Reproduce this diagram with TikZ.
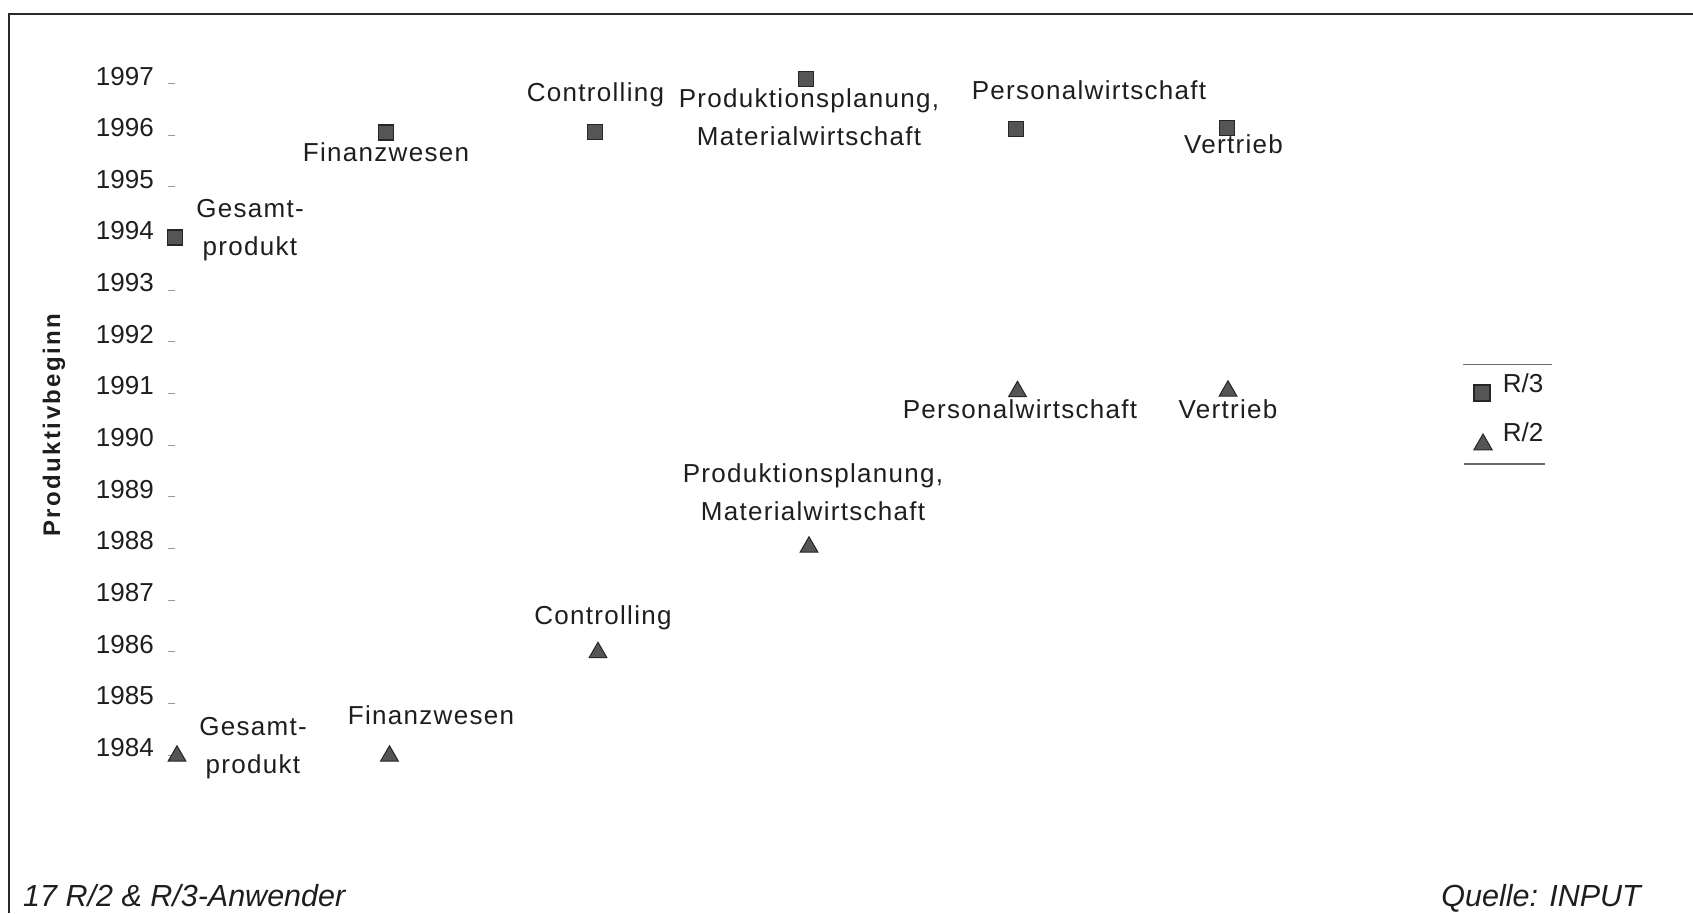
\documentclass[tikz,border=0pt]{standalone}
\usepackage{fontspec}
\setmainfont{Liberation Sans}
\newfontfamily\lblfont{Liberation Sans}[LetterSpace=5]
\newfontfamily\ttlfont{Liberation Sans}[LetterSpace=10]
\usetikzlibrary{shapes.geometric}
\definecolor{txt}{HTML}{1E1E1E}
\definecolor{mkfill}{HTML}{555555}
\definecolor{mkdraw}{HTML}{262626}
\definecolor{tickc}{HTML}{9A9A9A}
\definecolor{framec}{HTML}{2A2A2A}
\definecolor{legc}{HTML}{6A6A6A}
\begin{document}
\begin{tikzpicture}[x=1pt,y=-1pt,
  lbl/.style={font=\lblfont\fontsize{26}{38}\selectfont, text=txt, inner sep=0, anchor=base, align=center},
  yr/.style={font=\fontsize{26}{30}\selectfont, text=txt, inner sep=0, anchor=base east},
  sq/.style={rectangle, minimum size=15pt, inner sep=0, fill=mkfill, draw=mkdraw, line width=1.2pt},
  tri/.style={regular polygon, regular polygon sides=3, minimum size=20.5pt, inner sep=0, fill=mkfill, draw=mkdraw, line width=1pt},
  tk/.style={draw=tickc, line width=1pt},
  legline/.style={draw=legc, line width=1.5pt},
  foot/.style={font=\itshape\fontsize{30.5}{34}\selectfont, text=txt, inner sep=0}
]
\useasboundingbox (0,0) rectangle (1693,913);
\fill[white] (0,0) rectangle (1693,913);
% frame (top and left)
\draw[framec, line width=2pt] (9,913) -- (9,13.5) -- (1693,13.5);

% y axis labels and ticks
\foreach \yy [count=\i from 0] in {1997,1996,...,1984}{
  \node[yr] (y\yy) at (154, 85+\i*51.66) {\yy};
  \draw[tk] (168, 83.6+\i*51.66) -- (175, 83.6+\i*51.66);
}
\node[rotate=90, font=\ttlfont\bfseries\fontsize{24}{28}\selectfont, text=txt, inner sep=0] (title) at (54,425) {Produktivbeginn};

% R/3 markers (squares)
\node[sq] (s1) at (175,237.5) {};
\node[sq] (s2) at (385.6,132.5) {};
\node[sq] (s3) at (595,132) {};
\node[sq] (s4) at (806,78.7) {};
\node[sq] (s5) at (1015.6,129) {};
\node[sq] (s6) at (1226.6,128) {};

% R/2 markers (triangles)
\node[tri] (t1) at (177,756) {};
\node[tri] (t2) at (389.5,756) {};
\node[tri] (t3) at (598,652.5) {};
\node[tri] (t4) at (809,547) {};
\node[tri] (t5) at (1017.5,391.5) {};
\node[tri] (t6) at (1228,391) {};

% R/3 labels (base = baseline of last line)
\node[lbl] (ls1) at (250,255) {Gesamt-\\produkt};
\node[lbl] (ls2) at (386,161) {Finanzwesen};
\node[lbl] (ls3) at (595.5,101) {Controlling};
\node[lbl] (ls4) at (809,145) {Produktionsplanung,\\Materialwirtschaft};
\node[lbl] (ls5) at (1089,99) {Personalwirtschaft};
\node[lbl] (ls6) at (1233.5,153) {Vertrieb};

% R/2 labels
\node[lbl] (lt1) at (253,773) {Gesamt-\\produkt};
\node[lbl] (lt2) at (431,724) {Finanzwesen};
\node[lbl] (lt3) at (603,624) {Controlling};
\node[lbl] (lt4) at (813,520.7) {Produktionsplanung,\\Materialwirtschaft};
\node[lbl] (lt5) at (1020,418) {Personalwirtschaft};
\node[lbl] (lt6) at (1228,418) {Vertrieb};

% legend
\draw[legline] (1463,364.3) -- (1552,364.3);
\draw[legline] (1464,464) -- (1545,464);
\node[sq, minimum size=16pt] (legs) at (1482,393) {};
\node[tri, minimum size=21pt] (legt) at (1483,444.5) {};
\node[font=\fontsize{26}{30}\selectfont, text=txt, inner sep=0, anchor=base west] (legr3) at (1502.7,392.7) {R/3};
\node[font=\fontsize{26}{30}\selectfont, text=txt, inner sep=0, anchor=base west] (legr2) at (1502.7,441.7) {R/2};

% footer
\node[foot, anchor=base west] (f1) at (23,906) {17 R/2 \& R/3-Anwender};
\node[foot, anchor=base east] (f2) at (1641,906) {Quelle: INPUT};
\end{tikzpicture}
\end{document}
